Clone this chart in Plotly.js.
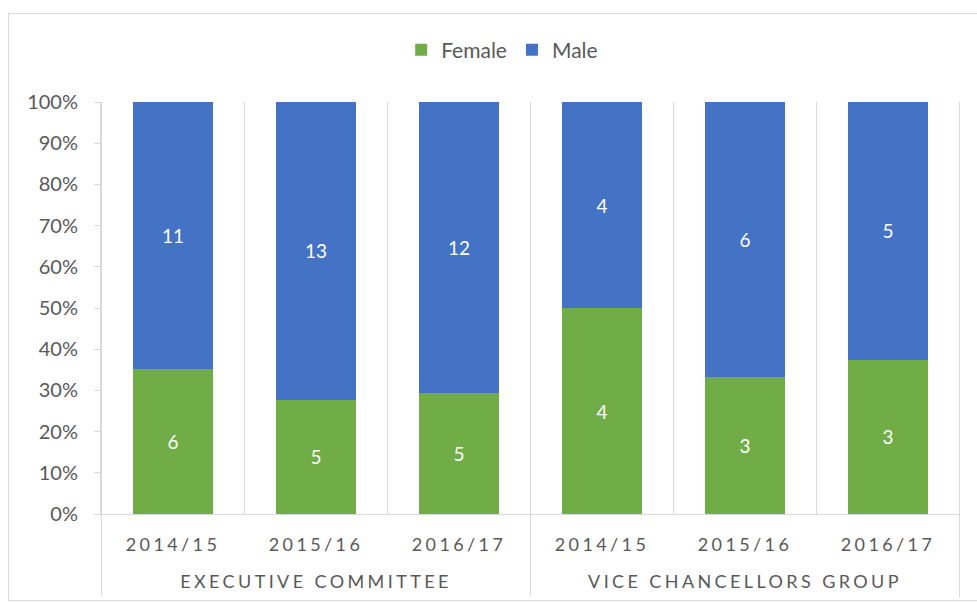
<!DOCTYPE html>
<html><head><meta charset="utf-8">
<script src="https://cdn.plot.ly/plotly-3.0.1.min.js"></script>
<style>
html,body{margin:0;padding:0;background:#fff;}
#wrap{position:relative;width:977px;height:603px;overflow:hidden;}
#chart{width:977px;height:603px;}
#frame{position:absolute;left:8px;top:13px;width:1000px;height:586px;border:1px solid #d9d9d9;pointer-events:none;}
.xaxislayer-above text{letter-spacing:3.4px;}
.xaxislayer-above g.xtick2 text{translate:0 27px;}
</style></head><body>
<div id="wrap"><div id="chart"></div><div id="frame"></div></div>
<script>
const groups = ["EXECUTIVE COMMITTEE","EXECUTIVE COMMITTEE","EXECUTIVE COMMITTEE","VICE CHANCELLORS GROUP","VICE CHANCELLORS GROUP","VICE CHANCELLORS GROUP"];
const years = ["2014/15","2015/16","2016/17","2014/15","2015/16","2016/17"];
const female = [6,5,5,4,3,3];
const male = [11,13,12,4,6,5];
const seriesNames = ["Female","Male"];
const colors = ["#70AD47","#4472C4"];

const font = "Lato, 'Open Sans', sans-serif";
const grey = "#595959";
const lineCol = "#d9d9d9";

function barTrace(name, vals, color){
  return {
    type:'bar', name:name, x:[groups, years], y:vals,
    text:vals.map(String), textposition:'inside', insidetextanchor:'middle',
    textfont:{family:font, size:19, color:'#ffffff'},
    marker:{color:color, line:{width:0}}, width:0.56,
    hoverinfo:'skip'
  };
}

const data = [
  barTrace(seriesNames[0], female, colors[0]),
  barTrace(seriesNames[1], male, colors[1])
];

// category boundary lines (between every bar; group boundaries reach down through the labels)
const shapes = [];
for (let i = 0; i <= years.length; i++) {
  const isGroupEdge = (i === 0 || i === years.length || groups[i] !== groups[i-1]);
  shapes.push({
    type:'line', xref:'x', yref:'paper', layer:'below',
    x0:i-0.5, x1:i-0.5, y0:isGroupEdge ? -0.2015 : 0, y1:1,
    line:{color:lineCol, width:1}
  });
}

const layout = {
  width:977, height:603,
  margin:{l:101, r:17, t:102, b:89},
  paper_bgcolor:'#ffffff', plot_bgcolor:'#ffffff',
  barmode:'stack', barnorm:'fraction',
  font:{family:font, color:grey, size:19},
  showlegend:true,
  legend:{orientation:'h', x:0.467, xanchor:'center', y:1.126, yanchor:'middle',
          font:{family:font, size:21, color:grey}, traceorder:'normal', itemclick:false, itemwidth:30},
  shapes:shapes,
  xaxis:{type:'multicategory', showline:true, linecolor:lineCol, linewidth:1,
         ticks:'', showgrid:false, zeroline:false, showdividers:false,
         ticklabelstandoff:14,
         tickfont:{family:font, size:18, color:grey}},
  yaxis:{range:[0,1], dtick:0.1, tickformat:'.0%', showgrid:false, zeroline:false,
         showline:true, linecolor:lineCol, linewidth:1, ticks:'outside', ticklen:6,
         tickcolor:lineCol, ticklabelstandoff:12,
         tickfont:{family:font, size:20, color:grey}}
};

Plotly.newPlot('chart', data, layout, {displayModeBar:false, staticPlot:true});
</script></body></html>
